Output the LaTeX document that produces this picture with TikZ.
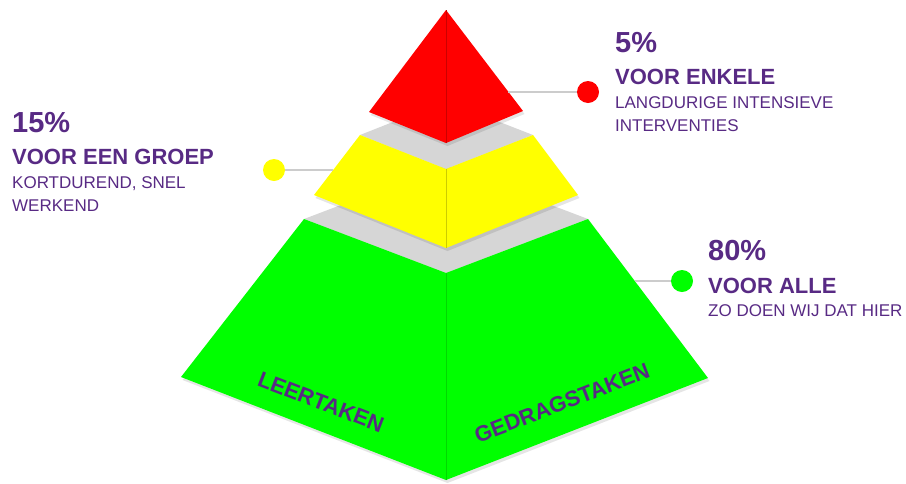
\documentclass[tikz,border=0pt]{standalone}
\usepackage{fontspec}
\setmainfont{Liberation Sans}
\usetikzlibrary{positioning}
\definecolor{pyrpurple}{RGB}{88,42,132}
\definecolor{topgray}{RGB}{214,214,214}
\definecolor{linegray}{RGB}{204,204,204}
\definecolor{pyrred}{RGB}{255,0,0}
\definecolor{pyryellow}{RGB}{255,255,0}
\definecolor{pyrgreen}{RGB}{0,255,0}
\tikzset{
  shade/.style={fill=black,opacity=0.10,shift={(1.5,3)}},
  ridge/.style={line width=1pt},
  dot/.style={circle,minimum size=22pt,inner sep=0pt,draw=none},
  conn/.style={draw=linegray,line width=1.3pt},
  pct/.style={anchor=base west,inner sep=0pt,text=pyrpurple,font=\fontsize{29}{29}\selectfont\bfseries},
  head/.style={anchor=base west,inner sep=0pt,text=pyrpurple,font=\fontsize{22}{22}\selectfont\bfseries},
  sub/.style={anchor=base west,inner sep=0pt,text=pyrpurple,font=\fontsize{17}{17}\selectfont},
  sidetext/.style={inner sep=0pt,text=pyrpurple,font=\fontsize{22}{22}\selectfont\bfseries}
}
\begin{document}
\begin{tikzpicture}[x=1pt,y=-1pt]
 \useasboundingbox (0,0) rectangle (906,483);
 % bottom layer
 \fill[shade] (304,219) -- (181,377) -- (446,480) -- (708,378) -- (588,219) -- cycle;
 \fill[topgray] (304,219) -- (446,165) -- (588,219) -- (446,273) -- cycle;
 \fill[pyrgreen] (304,219) -- (446,273) -- (446,480) -- (181,377) -- cycle;
 \fill[pyrgreen] (588,219) -- (446,273) -- (446,480) -- (708,378) -- cycle;
 \draw[ridge,draw=pyrgreen!85!black] (446,273) -- (446,480);
 % middle layer
 \fill[shade] (360,135) -- (314,195) -- (446,248) -- (578,195) -- (533,135) -- cycle;
 \fill[topgray] (360,135) -- (446,101) -- (533,135) -- (446,169) -- cycle;
 \fill[pyryellow] (360,135) -- (446,169) -- (446,248) -- (314,195) -- cycle;
 \fill[pyryellow] (533,135) -- (446,169) -- (446,248) -- (578,195) -- cycle;
 \draw[ridge,draw=pyryellow!80!black] (446,169) -- (446,248);
 % top layer
 \fill[shade] (446,10) -- (369,112) -- (446,143) -- (523,111) -- cycle;
 \fill[pyrred] (446,10) -- (369,112) -- (446,143) -- cycle;
 \fill[pyrred] (446,10) -- (523,111) -- (446,143) -- cycle;
 \draw[ridge,draw=pyrred!80!black] (446,10) -- (446,143);

 % face labels
 \node[sidetext,rotate=-21] (leer) at (321,402) {LEERTAKEN};
 \node[sidetext,rotate=21] (gedrag) at (562,403) {GEDRAGSTAKEN};

 % connectors
 \coordinate (e5) at (508,92);
 \node[dot,fill=pyrred] (d5) at (588,92) {};
 \draw[conn] (e5) -- (d5);
 \coordinate (e15) at (333,170);
 \node[dot,fill=pyryellow] (d15) at (274,170) {};
 \draw[conn] (e15) -- (d15);
 \coordinate (e80) at (635,281);
 \node[dot,fill=pyrgreen] (d80) at (682,281) {};
 \draw[conn] (e80) -- (d80);

 % 5%
 \node[pct] (p5) at (615,52) {5\%};
 \node[head] (h5) at (615,84) {VOOR ENKELE};
 \node[sub] (s5a) at (615,108) {LANGDURIGE INTENSIEVE};
 \node[sub] (s5b) at (615,131) {INTERVENTIES};
 % 15%
 \node[pct] (p15) at (12,132) {15\%};
 \node[head] (h15) at (12,164) {VOOR EEN GROEP};
 \node[sub] (s15a) at (12,188) {KORTDUREND, SNEL};
 \node[sub] (s15b) at (12,211) {WERKEND};
 % 80%
 \node[pct] (p80) at (708,260) {80\%};
 \node[head] (h80) at (708,293) {VOOR ALLE};
 \node[sub] (s80) at (708,316) {ZO DOEN WIJ DAT HIER};
\end{tikzpicture}
\end{document}
